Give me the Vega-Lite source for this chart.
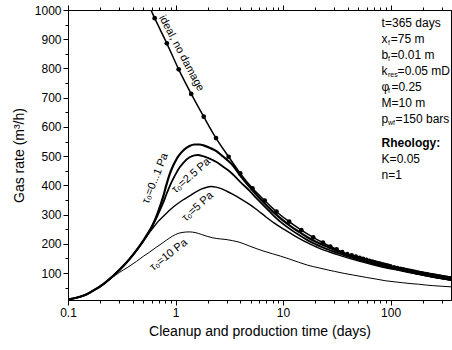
{
  "$schema": "https://vega.github.io/schema/vega-lite/v6.json",
  "width": 383,
  "height": 290,
  "autosize": "none",
  "padding": {"left": 68, "top": 10, "right": 1, "bottom": 50},
  "config": {
    "font": "Liberation Sans",
    "view": {"stroke": "black", "strokeWidth": 1},
    "axis": {"grid": false, "domainColor": "black", "tickColor": "black", "labelColor": "black", "titleColor": "black", "labelFontSize": 12, "titleFontSize": 14, "titleFontWeight": "normal", "labelFont": "Liberation Sans", "titleFont": "Liberation Sans"},
    "text": {"font": "Liberation Sans", "fontSize": 12, "color": "black"}
  },
  "datasets": {
    "curves": [
      {"tau":"0...1","t":0.1,"rate":10},{"tau":"0...1","t":0.115,"rate":14},{"tau":"0...1","t":0.129,"rate":19},{"tau":"0...1","t":0.15,"rate":28},{"tau":"0...1","t":0.171,"rate":40},{"tau":"0...1","t":0.2,"rate":55},{"tau":"0...1","t":0.228,"rate":71},{"tau":"0...1","t":0.26,"rate":89},{"tau":"0...1","t":0.303,"rate":112},{"tau":"0...1","t":0.35,"rate":136},{"tau":"0...1","t":0.403,"rate":163},{"tau":"0...1","t":0.45,"rate":186},{"tau":"0...1","t":0.5,"rate":210},{"tau":"0...1","t":0.55,"rate":234},{"tau":"0...1","t":0.6,"rate":258},{"tau":"0...1","t":0.65,"rate":285},{"tau":"0...1","t":0.69,"rate":310},{"tau":"0...1","t":0.763,"rate":358},{"tau":"0...1","t":0.82,"rate":400},{"tau":"0...1","t":0.88,"rate":437},{"tau":"0...1","t":0.95,"rate":467},{"tau":"0...1","t":1.015,"rate":488},{"tau":"0...1","t":1.09,"rate":505},{"tau":"0...1","t":1.2,"rate":522},{"tau":"0...1","t":1.35,"rate":535},{"tau":"0...1","t":1.5,"rate":540},{"tau":"0...1","t":1.67,"rate":540},{"tau":"0...1","t":1.85,"rate":536},{"tau":"0...1","t":2.1,"rate":528},{"tau":"0...1","t":2.38,"rate":518},{"tau":"0...1","t":2.7,"rate":502},{"tau":"0...1","t":3.0,"rate":488},{"tau":"0...1","t":3.39,"rate":470},{"tau":"0...1","t":4.0,"rate":434},{"tau":"0...1","t":4.84,"rate":397},{"tau":"0...1","t":5.8,"rate":364},{"tau":"0...1","t":6.9,"rate":335},{"tau":"0...1","t":8.3,"rate":306},{"tau":"0...1","t":9.86,"rate":282},{"tau":"0...1","t":12,"rate":258},{"tau":"0...1","t":14.1,"rate":241},{"tau":"0...1","t":17,"rate":222},{"tau":"0...1","t":20,"rate":208},{"tau":"0...1","t":23,"rate":198},{"tau":"0...1","t":26.7,"rate":188},{"tau":"0...1","t":32,"rate":176},{"tau":"0...1","t":40,"rate":162},{"tau":"0...1","t":50,"rate":151},{"tau":"0...1","t":60,"rate":142},{"tau":"0...1","t":75,"rate":132},{"tau":"0...1","t":90,"rate":124},{"tau":"0...1","t":110,"rate":117},{"tau":"0...1","t":130,"rate":111},{"tau":"0...1","t":155,"rate":105},{"tau":"0...1","t":180,"rate":100},{"tau":"0...1","t":215,"rate":94},{"tau":"0...1","t":250,"rate":89.5},{"tau":"0...1","t":300,"rate":84.5},{"tau":"0...1","t":365,"rate":79.5},
      {"tau":"2.5","t":0.1,"rate":10},{"tau":"2.5","t":0.115,"rate":14},{"tau":"2.5","t":0.129,"rate":19},{"tau":"2.5","t":0.15,"rate":28},{"tau":"2.5","t":0.171,"rate":40},{"tau":"2.5","t":0.2,"rate":55},{"tau":"2.5","t":0.228,"rate":71},{"tau":"2.5","t":0.26,"rate":89},{"tau":"2.5","t":0.303,"rate":112},{"tau":"2.5","t":0.35,"rate":136},{"tau":"2.5","t":0.403,"rate":163},{"tau":"2.5","t":0.45,"rate":186},{"tau":"2.5","t":0.5,"rate":210},{"tau":"2.5","t":0.55,"rate":234},{"tau":"2.5","t":0.6,"rate":257},{"tau":"2.5","t":0.65,"rate":282},{"tau":"2.5","t":0.69,"rate":302},{"tau":"2.5","t":0.763,"rate":338},{"tau":"2.5","t":0.82,"rate":368},{"tau":"2.5","t":0.88,"rate":396},{"tau":"2.5","t":0.95,"rate":422},{"tau":"2.5","t":1.015,"rate":442},{"tau":"2.5","t":1.09,"rate":461},{"tau":"2.5","t":1.2,"rate":480},{"tau":"2.5","t":1.35,"rate":496},{"tau":"2.5","t":1.5,"rate":503},{"tau":"2.5","t":1.62,"rate":504},{"tau":"2.5","t":1.8,"rate":500},{"tau":"2.5","t":2.0,"rate":494},{"tau":"2.5","t":2.21,"rate":487},{"tau":"2.5","t":2.38,"rate":481},{"tau":"2.5","t":2.7,"rate":467},{"tau":"2.5","t":3.0,"rate":455},{"tau":"2.5","t":3.39,"rate":439},{"tau":"2.5","t":4.0,"rate":412},{"tau":"2.5","t":4.84,"rate":383},{"tau":"2.5","t":5.8,"rate":352},{"tau":"2.5","t":6.9,"rate":324},{"tau":"2.5","t":8.3,"rate":294},{"tau":"2.5","t":9.86,"rate":270},{"tau":"2.5","t":12,"rate":247},{"tau":"2.5","t":14.1,"rate":230},{"tau":"2.5","t":17,"rate":212},{"tau":"2.5","t":20,"rate":199},{"tau":"2.5","t":23,"rate":189},{"tau":"2.5","t":26.7,"rate":180},{"tau":"2.5","t":32,"rate":169},{"tau":"2.5","t":40,"rate":157},{"tau":"2.5","t":50,"rate":146},{"tau":"2.5","t":60,"rate":138},{"tau":"2.5","t":75,"rate":129},{"tau":"2.5","t":90,"rate":121},{"tau":"2.5","t":110,"rate":114.5},{"tau":"2.5","t":130,"rate":109},{"tau":"2.5","t":155,"rate":103},{"tau":"2.5","t":180,"rate":98},{"tau":"2.5","t":215,"rate":93},{"tau":"2.5","t":250,"rate":88},{"tau":"2.5","t":300,"rate":83},{"tau":"2.5","t":365,"rate":78},
      {"tau":"5","t":0.1,"rate":10},{"tau":"5","t":0.115,"rate":14},{"tau":"5","t":0.129,"rate":19},{"tau":"5","t":0.15,"rate":28},{"tau":"5","t":0.171,"rate":40},{"tau":"5","t":0.2,"rate":55},{"tau":"5","t":0.228,"rate":71},{"tau":"5","t":0.26,"rate":89},{"tau":"5","t":0.303,"rate":112},{"tau":"5","t":0.35,"rate":136},{"tau":"5","t":0.403,"rate":162},{"tau":"5","t":0.45,"rate":185},{"tau":"5","t":0.5,"rate":208},{"tau":"5","t":0.55,"rate":230},{"tau":"5","t":0.6,"rate":249},{"tau":"5","t":0.65,"rate":265},{"tau":"5","t":0.69,"rate":277},{"tau":"5","t":0.763,"rate":293},{"tau":"5","t":0.82,"rate":304},{"tau":"5","t":0.88,"rate":315},{"tau":"5","t":1.0,"rate":332},{"tau":"5","t":1.17,"rate":350},{"tau":"5","t":1.35,"rate":364},{"tau":"5","t":1.55,"rate":378},{"tau":"5","t":1.75,"rate":388},{"tau":"5","t":1.92,"rate":393},{"tau":"5","t":2.15,"rate":396},{"tau":"5","t":2.38,"rate":394},{"tau":"5","t":2.7,"rate":388},{"tau":"5","t":3.0,"rate":380},{"tau":"5","t":3.39,"rate":370},{"tau":"5","t":4.0,"rate":355},{"tau":"5","t":4.84,"rate":336},{"tau":"5","t":5.8,"rate":315},{"tau":"5","t":6.9,"rate":293},{"tau":"5","t":8.3,"rate":271},{"tau":"5","t":9.86,"rate":253},{"tau":"5","t":12,"rate":234},{"tau":"5","t":14.1,"rate":219},{"tau":"5","t":17,"rate":203},{"tau":"5","t":20,"rate":191},{"tau":"5","t":23,"rate":181},{"tau":"5","t":26.7,"rate":173},{"tau":"5","t":32,"rate":163},{"tau":"5","t":40,"rate":152},{"tau":"5","t":50,"rate":142},{"tau":"5","t":60,"rate":134},{"tau":"5","t":75,"rate":125},{"tau":"5","t":90,"rate":118},{"tau":"5","t":110,"rate":112},{"tau":"5","t":130,"rate":106},{"tau":"5","t":155,"rate":101},{"tau":"5","t":180,"rate":96},{"tau":"5","t":215,"rate":91},{"tau":"5","t":250,"rate":86},{"tau":"5","t":300,"rate":81},{"tau":"5","t":365,"rate":76},
      {"tau":"10","t":0.1,"rate":10},{"tau":"10","t":0.115,"rate":14},{"tau":"10","t":0.129,"rate":19},{"tau":"10","t":0.15,"rate":28},{"tau":"10","t":0.171,"rate":40},{"tau":"10","t":0.2,"rate":54},{"tau":"10","t":0.228,"rate":69},{"tau":"10","t":0.26,"rate":86},{"tau":"10","t":0.3,"rate":102},{"tau":"10","t":0.36,"rate":120},{"tau":"10","t":0.433,"rate":140},{"tau":"10","t":0.5,"rate":157},{"tau":"10","t":0.575,"rate":172},{"tau":"10","t":0.66,"rate":188},{"tau":"10","t":0.763,"rate":204},{"tau":"10","t":0.88,"rate":220},{"tau":"10","t":1.0,"rate":232},{"tau":"10","t":1.15,"rate":239},{"tau":"10","t":1.35,"rate":241},{"tau":"10","t":1.55,"rate":238},{"tau":"10","t":1.75,"rate":232},{"tau":"10","t":2.0,"rate":225},{"tau":"10","t":2.2,"rate":221},{"tau":"10","t":2.6,"rate":217},{"tau":"10","t":2.95,"rate":215},{"tau":"10","t":3.4,"rate":211},{"tau":"10","t":3.9,"rate":206},{"tau":"10","t":4.84,"rate":193},{"tau":"10","t":6.5,"rate":176},{"tau":"10","t":8.0,"rate":166},{"tau":"10","t":9.5,"rate":158},{"tau":"10","t":11.5,"rate":148},{"tau":"10","t":14,"rate":137},{"tau":"10","t":17,"rate":127},{"tau":"10","t":21.5,"rate":118},{"tau":"10","t":26.7,"rate":110},{"tau":"10","t":30,"rate":106},{"tau":"10","t":37,"rate":99},{"tau":"10","t":44,"rate":94},{"tau":"10","t":60,"rate":85},{"tau":"10","t":75,"rate":79},{"tau":"10","t":89,"rate":74},{"tau":"10","t":110,"rate":70},{"tau":"10","t":130,"rate":67},{"tau":"10","t":155,"rate":64},{"tau":"10","t":182,"rate":62},{"tau":"10","t":215,"rate":59},{"tau":"10","t":250,"rate":57},{"tau":"10","t":300,"rate":55},{"tau":"10","t":365,"rate":53}
    ],
    "ideal": [
      {"t":0.59,"rate":1000},{"t":0.64,"rate":972},{"t":0.83,"rate":886},{"t":1.07,"rate":797},{"t":1.4,"rate":713},{"t":1.83,"rate":635},{"t":2.38,"rate":562},{"t":3.12,"rate":498},{"t":4.0,"rate":441},{"t":5.2,"rate":390},{"t":6.76,"rate":348},{"t":8.7,"rate":310},{"t":11.4,"rate":276},{"t":14.8,"rate":247},{"t":19.1,"rate":222},{"t":23.5,"rate":204},{"t":27.5,"rate":191},{"t":31.5,"rate":181},{"t":35.5,"rate":172},{"t":39.5,"rate":165},{"t":43.5,"rate":160.6},{"t":47.5,"rate":156.1},{"t":51.5,"rate":152.1},{"t":55.5,"rate":148.5},{"t":59.5,"rate":145.2},{"t":63.5,"rate":142.2},{"t":67.5,"rate":139.4},{"t":71.5,"rate":136.8},{"t":75.5,"rate":134.5},{"t":79.5,"rate":132.3},{"t":83.5,"rate":130.2},{"t":87.5,"rate":128.2},{"t":91.5,"rate":126.4},{"t":95.5,"rate":124.7},{"t":99.5,"rate":123.0},{"t":107.5,"rate":120.0},{"t":115.5,"rate":117.3},{"t":123.5,"rate":114.8},{"t":131.5,"rate":112.5},{"t":139.5,"rate":110.4},{"t":147.5,"rate":108.4},{"t":155.5,"rate":106.6},{"t":163.5,"rate":104.9},{"t":171.5,"rate":103.3},{"t":179.5,"rate":101.8},{"t":187.5,"rate":100.3},{"t":195.5,"rate":99.0},{"t":203.5,"rate":97.7},{"t":211.5,"rate":96.5},{"t":219.5,"rate":95.4},{"t":227.5,"rate":94.3},{"t":235.5,"rate":93.2},{"t":243.5,"rate":92.2},{"t":251.5,"rate":91.3},{"t":259.5,"rate":90.4},{"t":267.5,"rate":89.5},{"t":275.5,"rate":88.6},{"t":283.5,"rate":87.8},{"t":291.5,"rate":87.0},{"t":299.5,"rate":86.3},{"t":307.5,"rate":85.6},{"t":315.5,"rate":84.9},{"t":323.5,"rate":84.2},{"t":331.5,"rate":83.5},{"t":339.5,"rate":82.9},{"t":347.5,"rate":82.3},{"t":355.5,"rate":81.7},{"t":363.5,"rate":81.1}
    ],
    "info_main": [
      {"t":82.6,"rate":955.5,"text":"t=365 days"},{"t":82.6,"rate":900.8,"text":"x"},{"t":82.6,"rate":846.1,"text":"b"},{"t":82.6,"rate":791.3,"text":"k"},{"t":82.6,"rate":736.6,"text":"φ"},{"t":82.6,"rate":681.9,"text":"M=10 m"},{"t":82.6,"rate":627.1,"text":"p"},{"t":82.6,"rate":490.3,"text":"K=0.05"},{"t":82.6,"rate":435.6,"text":"n=1"}
    ],
    "info_sub": [
      {"t":82.6,"rate":900.8,"text":"f"},{"t":82.6,"rate":846.1,"text":"f"},{"t":82.6,"rate":791.3,"text":"res"},{"t":82.6,"rate":736.6,"text":"f"},{"t":82.6,"rate":627.1,"text":"wf"}
    ],
    "info_rest_xb": [
      {"t":82.6,"rate":900.8,"text":"=75 m"},{"t":82.6,"rate":846.1,"text":"=0.01 m"}
    ],
    "info_rest_phi": [{"t":82.6,"rate":736.6,"text":"=0.25"}],
    "info_rest_k": [{"t":82.6,"rate":791.3,"text":"=0.05 mD"}],
    "info_rest_p": [{"t":82.6,"rate":627.1,"text":"=150 bars"}],
    "info_bold": [{"t":82.6,"rate":545,"text":"Rheology:"}]
  },
  "resolve": {"axis": {"x": "independent", "y": "independent"}},
  "layer": [
    {
      "data": {"name": "curves"},
      "mark": {"type": "line", "interpolate": "monotone", "clip": true, "color": "black"},
      "encoding": {
        "x": {"field": "t", "type": "quantitative", "scale": {"type": "log", "domain": [0.1, 365], "nice": false},
          "axis": {"orient": "bottom", "values": [0.1,0.2,0.3,0.4,0.5,0.6,0.7,0.8,0.9,1,2,3,4,5,6,7,8,9,10,20,30,40,50,60,70,80,90,100,200,300],
            "format": "~g", "labelExpr": "indexof([0.1,1,10,100], datum.value) >= 0 ? datum.label : ''",
            "labelOverlap": false, "labelFlush": false, "labelPadding": 2,
            "tickSize": {"condition": {"test": "indexof([0.1,1,10,100], datum.value) >= 0", "value": 5}, "value": 3},
            "title": "Cleanup and production time (days)", "titlePadding": 6}},
        "y": {"field": "rate", "type": "quantitative", "scale": {"domain": [8, 1000], "nice": false, "zero": false},
          "axis": {"orient": "left", "values": [50,100,150,200,250,300,350,400,450,500,550,600,650,700,750,800,850,900,950,1000],
            "format": "d", "labelExpr": "indexof([100,200,300,400,500,600,700,800,900,1000], datum.value) >= 0 ? datum.label : ''",
            "labelOverlap": false, "labelFlush": false, "labelPadding": 2,
            "tickSize": {"condition": {"test": "indexof([100,200,300,400,500,600,700,800,900,1000], datum.value) >= 0", "value": 5}, "value": 3},
            "title": "Gas rate (m³/h)", "titlePadding": 8}},
        "detail": {"field": "tau", "type": "nominal"},
        "strokeWidth": {"field": "tau", "type": "nominal", "scale": {"domain": ["0...1", "2.5", "5", "10"], "range": [2.2, 1, 1, 1]}, "legend": null}
      }
    },
    {
      "data": {"name": "ideal"},
      "mark": {"type": "line", "interpolate": "monotone", "clip": true, "color": "black", "strokeWidth": 1.5},
      "encoding": {
        "x": {"field": "t", "type": "quantitative", "scale": {"type": "log", "domain": [0.1, 365], "nice": false},
          "axis": {"orient": "top", "values": [0.1,0.2,0.3,0.4,0.5,0.6,0.7,0.8,0.9,1,2,3,4,5,6,7,8,9,10,20,30,40,50,60,70,80,90,100,200,300],
            "labels": false, "title": null,
            "tickSize": {"condition": {"test": "indexof([0.1,1,10,100], datum.value) >= 0", "value": 5}, "value": 3}}},
        "y": {"field": "rate", "type": "quantitative", "scale": {"domain": [8, 1000], "nice": false, "zero": false}, "axis": null}
      }
    },
    {
      "data": {"name": "ideal"},
      "transform": [{"filter": "datum.rate < 1000"}],
      "mark": {"type": "point", "filled": true, "color": "black", "opacity": 1, "size": 22, "clip": true},
      "encoding": {
        "x": {"field": "t", "type": "quantitative", "scale": {"type": "log", "domain": [0.1, 365], "nice": false}, "axis": null},
        "y": {"field": "rate", "type": "quantitative", "scale": {"domain": [8, 1000], "nice": false, "zero": false}, "axis": null}
      }
    },
    {
      "data": {"values": [{"t": 1.13, "rate": 852, "text": "ideal, no damage"}]},
      "mark": {"type": "text", "angle": 62, "fontSize": 11, "align": "center", "baseline": "middle"},
      "encoding": {
        "x": {"field": "t", "type": "quantitative", "scale": {"type": "log", "domain": [0.1, 365], "nice": false}, "axis": null},
        "y": {"field": "rate", "type": "quantitative", "scale": {"domain": [8, 1000], "nice": false, "zero": false}, "axis": null},
        "text": {"field": "text"}
      }
    },
    {
      "data": {"values": [{"t": 0.65, "rate": 424, "text": "τ₀=0...1 Pa"}]},
      "mark": {"type": "text", "angle": -68, "fontSize": 11, "align": "center", "baseline": "middle"},
      "encoding": {
        "x": {"field": "t", "type": "quantitative", "scale": {"type": "log", "domain": [0.1, 365], "nice": false}, "axis": null},
        "y": {"field": "rate", "type": "quantitative", "scale": {"domain": [8, 1000], "nice": false, "zero": false}, "axis": null},
        "text": {"field": "text"}
      }
    },
    {
      "data": {"values": [{"t": 1.4, "rate": 433, "text": "τ₀=2.5 Pa"}]},
      "mark": {"type": "text", "angle": -41, "fontSize": 11, "align": "center", "baseline": "middle"},
      "encoding": {
        "x": {"field": "t", "type": "quantitative", "scale": {"type": "log", "domain": [0.1, 365], "nice": false}, "axis": null},
        "y": {"field": "rate", "type": "quantitative", "scale": {"domain": [8, 1000], "nice": false, "zero": false}, "axis": null},
        "text": {"field": "text"}
      }
    },
    {
      "data": {"values": [{"t": 1.61, "rate": 327, "text": "τ₀=5 Pa"}]},
      "mark": {"type": "text", "angle": -42, "fontSize": 11, "align": "center", "baseline": "middle"},
      "encoding": {
        "x": {"field": "t", "type": "quantitative", "scale": {"type": "log", "domain": [0.1, 365], "nice": false}, "axis": null},
        "y": {"field": "rate", "type": "quantitative", "scale": {"domain": [8, 1000], "nice": false, "zero": false}, "axis": null},
        "text": {"field": "text"}
      }
    },
    {
      "data": {"values": [{"t": 0.865, "rate": 162, "text": "τ₀=10 Pa"}]},
      "mark": {"type": "text", "angle": -38, "fontSize": 11, "align": "center", "baseline": "middle"},
      "encoding": {
        "x": {"field": "t", "type": "quantitative", "scale": {"type": "log", "domain": [0.1, 365], "nice": false}, "axis": null},
        "y": {"field": "rate", "type": "quantitative", "scale": {"domain": [8, 1000], "nice": false, "zero": false}, "axis": null},
        "text": {"field": "text"}
      }
    },
    {
      "data": {"name": "info_main"},
      "mark": {"type": "text", "align": "left", "baseline": "middle", "fontSize": 12},
      "encoding": {
        "x": {"field": "t", "type": "quantitative", "scale": {"type": "log", "domain": [0.1, 365], "nice": false}, "axis": null},
        "y": {"field": "rate", "type": "quantitative", "scale": {"domain": [8, 1000], "nice": false, "zero": false}, "axis": null},
        "text": {"field": "text"}
      }
    },
    {
      "data": {"name": "info_bold"},
      "mark": {"type": "text", "align": "left", "baseline": "middle", "fontSize": 12, "fontWeight": "bold"},
      "encoding": {
        "x": {"field": "t", "type": "quantitative", "scale": {"type": "log", "domain": [0.1, 365], "nice": false}, "axis": null},
        "y": {"field": "rate", "type": "quantitative", "scale": {"domain": [8, 1000], "nice": false, "zero": false}, "axis": null},
        "text": {"field": "text"}
      }
    },
    {
      "data": {"name": "info_sub"},
      "mark": {"type": "text", "align": "left", "baseline": "middle", "fontSize": 7, "dx": 6.3, "dy": 4},
      "encoding": {
        "x": {"field": "t", "type": "quantitative", "scale": {"type": "log", "domain": [0.1, 365], "nice": false}, "axis": null},
        "y": {"field": "rate", "type": "quantitative", "scale": {"domain": [8, 1000], "nice": false, "zero": false}, "axis": null},
        "text": {"field": "text"}
      }
    },
    {
      "data": {"name": "info_rest_xb"},
      "mark": {"type": "text", "align": "left", "baseline": "middle", "fontSize": 12, "dx": 9.2},
      "encoding": {
        "x": {"field": "t", "type": "quantitative", "scale": {"type": "log", "domain": [0.1, 365], "nice": false}, "axis": null},
        "y": {"field": "rate", "type": "quantitative", "scale": {"domain": [8, 1000], "nice": false, "zero": false}, "axis": null},
        "text": {"field": "text"}
      }
    },
    {
      "data": {"name": "info_rest_phi"},
      "mark": {"type": "text", "align": "left", "baseline": "middle", "fontSize": 12, "dx": 9.8},
      "encoding": {
        "x": {"field": "t", "type": "quantitative", "scale": {"type": "log", "domain": [0.1, 365], "nice": false}, "axis": null},
        "y": {"field": "rate", "type": "quantitative", "scale": {"domain": [8, 1000], "nice": false, "zero": false}, "axis": null},
        "text": {"field": "text"}
      }
    },
    {
      "data": {"name": "info_rest_k"},
      "mark": {"type": "text", "align": "left", "baseline": "middle", "fontSize": 12, "dx": 16},
      "encoding": {
        "x": {"field": "t", "type": "quantitative", "scale": {"type": "log", "domain": [0.1, 365], "nice": false}, "axis": null},
        "y": {"field": "rate", "type": "quantitative", "scale": {"domain": [8, 1000], "nice": false, "zero": false}, "axis": null},
        "text": {"field": "text"}
      }
    },
    {
      "data": {"name": "info_rest_p"},
      "mark": {"type": "text", "align": "left", "baseline": "middle", "fontSize": 12, "dx": 14},
      "encoding": {
        "x": {"field": "t", "type": "quantitative", "scale": {"type": "log", "domain": [0.1, 365], "nice": false}, "axis": null},
        "y": {"field": "rate", "type": "quantitative", "scale": {"domain": [8, 1000], "nice": false, "zero": false}, "axis": null},
        "text": {"field": "text"}
      }
    }
  ]
}
